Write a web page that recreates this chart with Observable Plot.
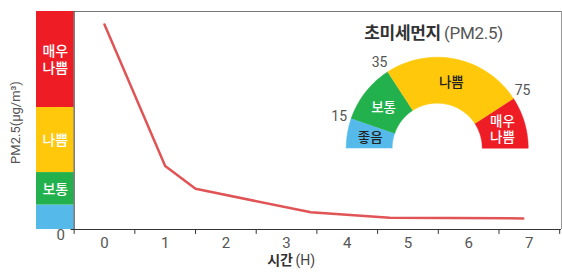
<!DOCTYPE html>
<html><head><meta charset="utf-8">
<script src="https://cdn.jsdelivr.net/npm/d3@7"></script>
<script src="https://cdn.jsdelivr.net/npm/@observablehq/plot@0.6"></script>
<style>
body{margin:0;background:#fff;font-family:Roboto,"Noto Sans CJK KR",sans-serif;}
#wrap{position:relative;width:562px;height:272px;}
#gauge{position:absolute;left:320px;top:10px;}
#title{position:absolute;left:320px;top:23px;width:227px;text-align:center;font-size:17px;line-height:20px;color:#333;letter-spacing:-0.3px;}
#title b{font-weight:700;color:#333;}
#title span{font-weight:400;color:#555;margin-left:3px;}
</style></head><body>
<div id="wrap"><div id="chart"></div><div id="gauge"></div><div id="title"><b>초미세먼지</b><span>(PM2.5)</span></div></div>
<script>
// ---- data ----
const hours = [0, 1, 1.5, 3.4, 4.7, 6.9];
const pm25 = [126, 39, 25, 10.6, 7.2, 6.8];
const xTickLabels = [0, 1, 2, 3, 4, 5, 6, 7];
const xTickEdges = [-0.5, 0.5, 1.5, 2.5, 3.5, 4.5, 5.5, 6.5, 7.5];
const yTickLabels = [0];
const levelNames = ["좋음", "보통", "나쁨", "매우\n나쁨"];
const levelFrom = [0, 15, 35, 75];
const levelTo = [15, 35, 75, 134];
const levelColors = ["#55BAEA", "#23B14D", "#FFC80B", "#EE1C25"];
const gaugeTextColors = ["#222", "#fff", "#222", "#fff"];
const gaugeThresholds = [15, 35, 75];
const gaugeAngles = [0, 19, 57, 147, 180]; // degrees, from left over the top

// ---- main chart ----
const font = 'Roboto, "Noto Sans CJK KR", sans-serif';
const yMax = 134, xMin = -1.12, xAxisAt = -0.5, xMax = 7.53;
const levels = levelNames.map((name, i) => ({name, y1: levelFrom[i], y2: levelTo[i], color: levelColors[i]}));
const series = hours.map((h, i) => ({h, v: pm25[i]}));

const chart = Plot.plot({
  width: 562, height: 272,
  marginLeft: 36, marginRight: 1, marginTop: 11, marginBottom: 43,
  x: {domain: [xMin, xMax], axis: null},
  y: {domain: [0, yMax], axis: null},
  color: {type: "identity"},
  style: {fontFamily: font, background: "white", overflow: "visible"},
  marks: [
    Plot.rect(levels, {x1: () => xMin, x2: () => xAxisAt, y1: "y1", y2: "y2", fill: d => d.color}),
    Plot.text(levels.slice(1), {x: () => (xMin + xAxisAt) / 2, y: d => (d.y1 + d.y2) / 2, text: "name",
      fill: "white", fontSize: 14, fontWeight: 500, lineHeight: 1.2}),
    Plot.ruleY([yMax], {x1: () => xAxisAt, x2: () => xMax, stroke: "#777"}),
    Plot.ruleX([xMax], {y1: () => 0, y2: () => yMax, stroke: "#999"}),
    Plot.ruleX([xAxisAt], {y1: () => 0, y2: () => yMax, stroke: "#333"}),
    Plot.ruleY([0], {x1: () => xAxisAt - 0.05, x2: () => xMax, stroke: "#333"}),
    Plot.ruleX(xTickEdges, {y1: () => 0, y2: () => -3, stroke: "#333"}),
    Plot.text(xTickLabels, {x: d => d, y: () => 0, dy: 14, text: d => String(d), fill: "#555", fontSize: 15}),
    Plot.text(yTickLabels, {x: () => xAxisAt, y: d => d, dx: -13.5, dy: 6, text: d => String(d), fill: "#555", fontSize: 15}),
    Plot.text(["PM2.5(μg/m³)"], {frameAnchor: "left", textAnchor: "middle", text: d => d, rotate: -90, dx: -21, dy: 2, fill: "#555", fontSize: 13}),
    Plot.text(["시간"], {frameAnchor: "bottom", text: d => d, textAnchor: "end", dx: -6, dy: 35, fill: "#333", fontSize: 14, fontWeight: 700}),
    Plot.text(["(H)"], {frameAnchor: "bottom", text: d => d, textAnchor: "start", dx: -3.5, dy: 35, fill: "#444", fontSize: 14}),
    Plot.line(series, {x: "h", y: "v", stroke: "#E05456", strokeWidth: 2.5})
  ]
});
document.getElementById("chart").appendChild(chart);

// ---- gauge ----
const R_OUT = 91, R_IN = 45;
const rad = a => a * Math.PI / 180;
const pt = (r, a) => ({gx: -r * Math.cos(rad(a)), gy: r * Math.sin(rad(a))});
const segMarks = levelNames.map((name, i) => {
  const a0 = gaugeAngles[i], a1 = gaugeAngles[i + 1];
  const n = 40, pts = [];
  for (let k = 0; k <= n; k++) pts.push(pt(R_OUT, a0 + (a1 - a0) * k / n));
  for (let k = n; k >= 0; k--) pts.push(pt(R_IN, a0 + (a1 - a0) * k / n));
  return Plot.line(pts, {x: "gx", y: "gy", fill: levelColors[i], stroke: levelColors[i], strokeWidth: 0.5});
});
const segLabels = levelNames.map((name, i) => {
  const p = pt(68, (gaugeAngles[i] + gaugeAngles[i + 1]) / 2);
  return {...p, name, color: gaugeTextColors[i]};
});
const thrLabels = gaugeThresholds.map((t, i) => ({...pt(103, gaugeAngles[i + 1] - 1), t}));

const gauge = Plot.plot({
  width: 242, height: 150, margin: 0,
  x: {domain: [-116.7, 125.3], axis: null},
  y: {domain: [-12.3, 137.7], axis: null},
  color: {type: "identity"},
  style: {fontFamily: font, background: "transparent", overflow: "visible"},
  marks: [
    ...segMarks,
    Plot.text(segLabels, {x: "gx", y: "gy", text: "name", fill: d => d.color, fontSize: 13.5, fontWeight: 500, lineHeight: 1.2}),
    Plot.text(thrLabels, {x: "gx", y: "gy", text: d => String(d.t), fill: "#555", fontSize: 14})
  ]
});
document.getElementById("gauge").appendChild(gauge);
</script>
</body></html>
